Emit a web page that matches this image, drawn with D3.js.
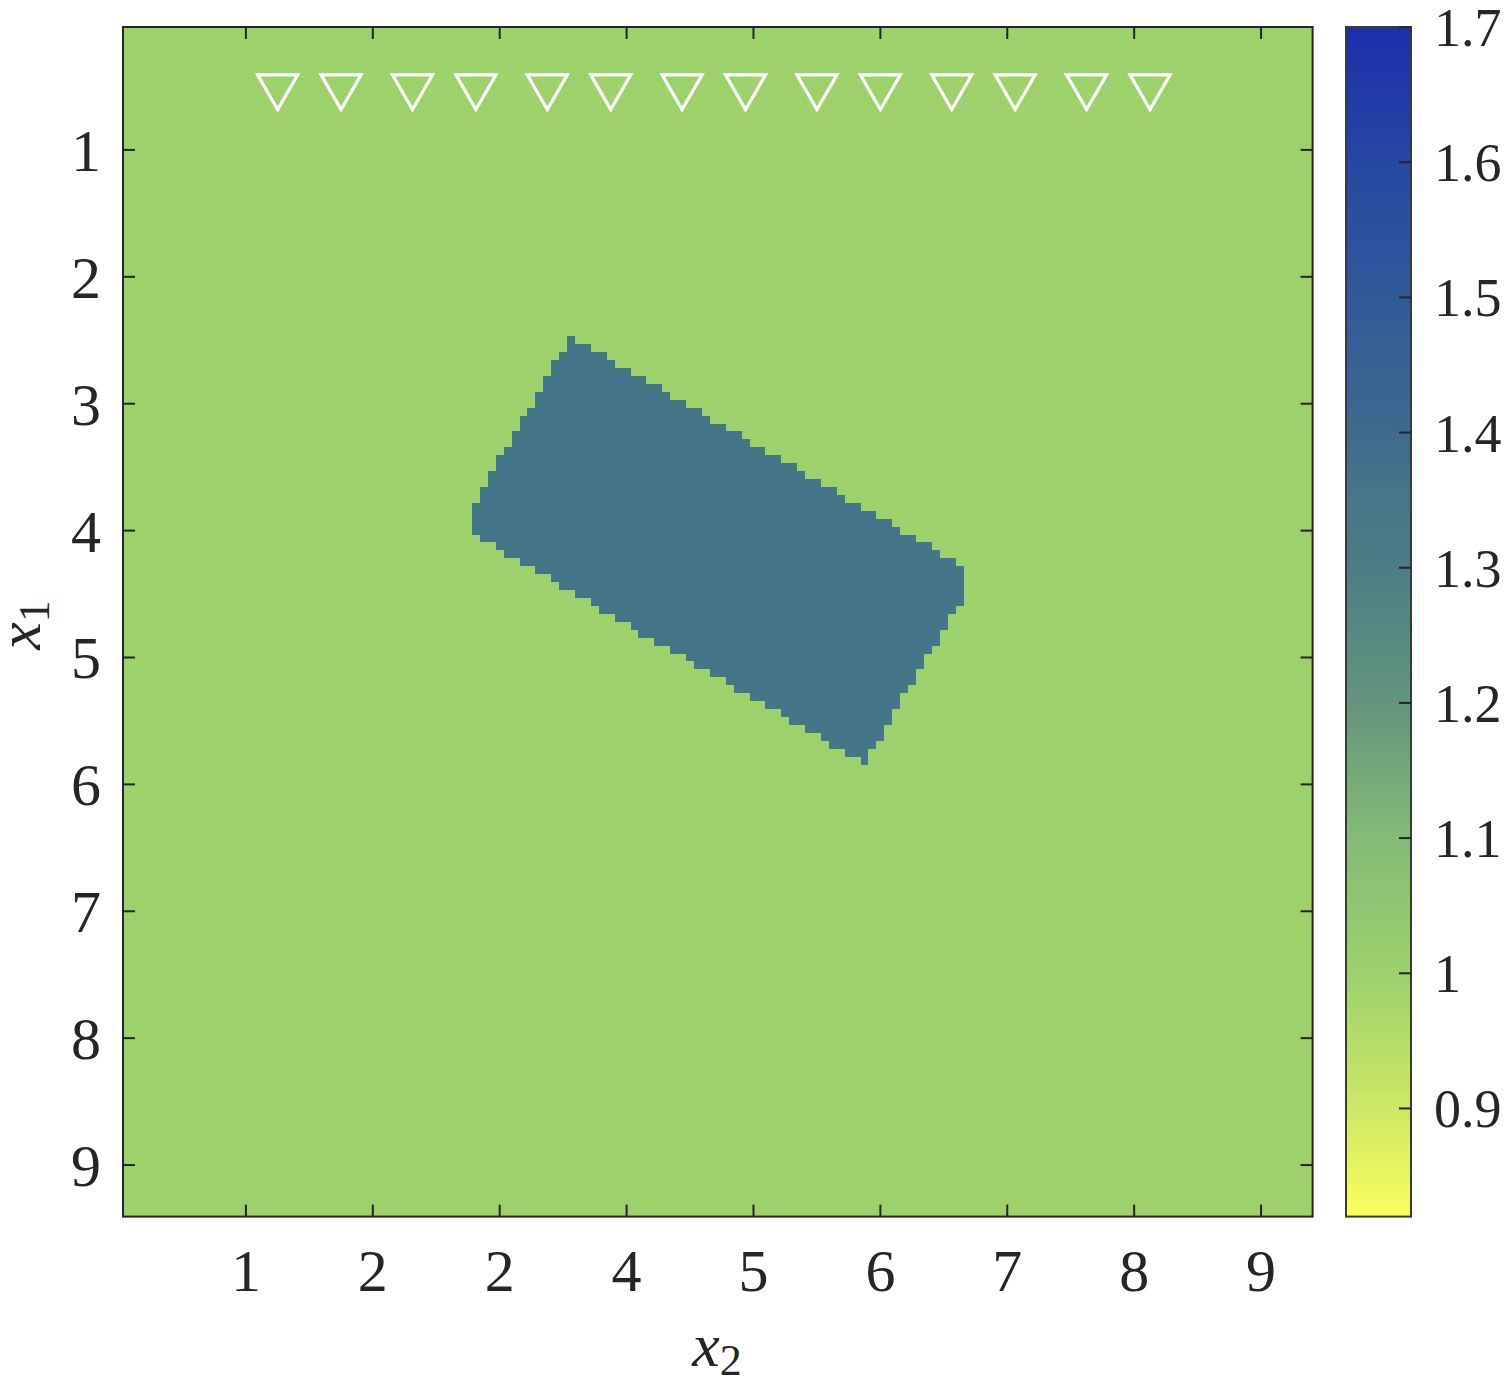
<!DOCTYPE html>
<html>
<head>
<meta charset="utf-8">
<script src="https://cdn.jsdelivr.net/npm/d3@7"></script>
<style>
  body { margin: 0; background: #fff; }
  svg text { font-family: 'Liberation Serif', 'DejaVu Serif', serif; fill: #262626; }
</style>
</head>
<body>
<svg id="chart" width="1506" height="1387"></svg>
<script>
// ---- data ----
var gridStep = 1 / 16;          // cell size of the image, both axes
var gridCount = 150;            // cells per axis (centres at k/16)
var backgroundValue = 1.0;
var regionValue = 1.36;
// outline of the tilted block, [x2, x1]
var regionCorners = [[3.5625, 2.47], [6.65, 4.28], [6.65, 4.52], [5.875, 5.84], [2.79, 4.03], [2.79, 3.79]];

var markerX2 = [1.25, 1.75, 2.3125, 2.8125, 3.375, 3.875, 4.4375, 4.9375, 5.5, 6.0, 6.5625, 7.0625, 7.625, 8.125];
var markerX1 = 0.545;

var xTickValues = [1, 2, 3, 4, 5, 6, 7, 8, 9];
var xTickLabels = ["1", "2", "2", "4", "5", "6", "7", "8", "9"];
var yTickValues = [1, 2, 3, 4, 5, 6, 7, 8, 9];
var yTickLabels = ["1", "2", "3", "4", "5", "6", "7", "8", "9"];

var cbDomain = [0.82, 1.7];
var cbTickValues = [0.9, 1.0, 1.1, 1.2, 1.3, 1.4, 1.5, 1.6, 1.7];
var cbTickLabels = ["0.9", "1", "1.1", "1.2", "1.3", "1.4", "1.5", "1.6", "1.7"];

var cmapValues = [0.82, 0.9, 1.0, 1.1, 1.2, 1.3, 1.36, 1.4, 1.5, 1.6, 1.7];
var cmapColors = ["#fbfe5c", "#cde866", "#9dd16c", "#84bb76", "#63957e", "#4c7d85", "#457588", "#3e6a8d", "#305a98", "#2647a2", "#1c2eae"];

// ---- layout ----
var svg = d3.select("#chart");
var plot = {left: 123, top: 27, size: 1189.6};
var cb = {left: 1346, top: 27, width: 65, height: 1189.6};
var axisColor = "#262626";

var domainLo = gridStep / 2, domainHi = gridStep * (gridCount + 0.5);

var x = d3.scaleLinear().domain([domainLo, domainHi]).range([plot.left, plot.left + plot.size]);
var y = d3.scaleLinear().domain([domainLo, domainHi]).range([plot.top, plot.top + plot.size]);

var color = d3.scaleLinear().domain(cmapValues).range(cmapColors).interpolate(d3.interpolateRgb).clamp(true);

// build the cells
var cells = [];
for (var i = 0; i < gridCount; i++) {
  for (var j = 0; j < gridCount; j++) {
    var cx = (i + 1) * gridStep, cy = (j + 1) * gridStep;
    var inside = d3.polygonContains(regionCorners, [cx, cy]);
    cells.push({x2: cx, x1: cy, v: inside ? regionValue : backgroundValue});
  }
}

var cw = x(gridStep) - x(0);
var ch = y(gridStep) - y(0);

svg.append("g")
  .attr("shape-rendering", "crispEdges")
  .selectAll("rect")
  .data(cells)
  .enter().append("rect")
  .attr("x", function(d) { return x(d.x2 - gridStep / 2); })
  .attr("y", function(d) { return y(d.x1 - gridStep / 2); })
  .attr("width", cw + 0.6)
  .attr("height", ch + 0.6)
  .attr("fill", function(d) { return color(d.v); });

// markers (downward triangles)
var triW = 40, triH = 34.6;
var tri = d3.path();
tri.moveTo(-triW / 2, -triH / 2);
tri.lineTo(triW / 2, -triH / 2);
tri.lineTo(0, triH / 2);
tri.closePath();

svg.append("g")
  .selectAll("path")
  .data(markerX2)
  .enter().append("path")
  .attr("d", tri.toString())
  .attr("transform", function(d) { return "translate(" + x(d) + "," + y(markerX1) + ")"; })
  .attr("fill", "none")
  .attr("stroke", "#fff")
  .attr("stroke-width", 3.2)
  .attr("stroke-linejoin", "miter");

// ticks on all four sides, pointing inward
var tickLen = 12;
var ticks = svg.append("g").attr("stroke", axisColor).attr("stroke-width", 2);
xTickValues.forEach(function(v) {
  ticks.append("line").attr("x1", x(v)).attr("x2", x(v)).attr("y1", plot.top + plot.size).attr("y2", plot.top + plot.size - tickLen);
  ticks.append("line").attr("x1", x(v)).attr("x2", x(v)).attr("y1", plot.top).attr("y2", plot.top + tickLen);
});
yTickValues.forEach(function(v) {
  ticks.append("line").attr("y1", y(v)).attr("y2", y(v)).attr("x1", plot.left).attr("x2", plot.left + tickLen);
  ticks.append("line").attr("y1", y(v)).attr("y2", y(v)).attr("x1", plot.left + plot.size).attr("x2", plot.left + plot.size - tickLen);
});

svg.append("rect")
  .attr("x", plot.left).attr("y", plot.top)
  .attr("width", plot.size).attr("height", plot.size)
  .attr("fill", "none").attr("stroke", axisColor).attr("stroke-width", 2);

// tick labels
svg.append("g").selectAll("text")
  .data(xTickValues)
  .enter().append("text")
  .attr("x", function(d) { return x(d); })
  .attr("y", 1291)
  .attr("text-anchor", "middle")
  .attr("font-size", 60)
  .text(function(d, i) { return xTickLabels[i]; });

svg.append("g").selectAll("text")
  .data(yTickValues)
  .enter().append("text")
  .attr("x", 101)
  .attr("y", function(d) { return y(d) + 21; })
  .attr("text-anchor", "end")
  .attr("font-size", 60)
  .text(function(d, i) { return yTickLabels[i]; });

// axis labels
var xl = svg.append("text")
  .attr("x", 717).attr("y", 1366)
  .attr("text-anchor", "middle")
  .attr("font-size", 62);
xl.append("tspan").attr("font-style", "italic").text("x");
xl.append("tspan").attr("font-size", 44).attr("dy", 9).text("2");

var yl = svg.append("text")
  .attr("transform", "translate(40,625) rotate(-90)")
  .attr("text-anchor", "middle")
  .attr("font-size", 62);
yl.append("tspan").attr("font-style", "italic").text("x");
yl.append("tspan").attr("font-size", 44).attr("dy", 9).text("1");

// colorbar
var cbY = d3.scaleLinear().domain(cbDomain).range([cb.top + cb.height, cb.top]);
var grad = svg.append("defs").append("linearGradient")
  .attr("id", "cbgrad")
  .attr("x1", 0).attr("y1", 1).attr("x2", 0).attr("y2", 0);
grad.selectAll("stop")
  .data(cmapValues)
  .enter().append("stop")
  .attr("offset", function(d) { return (d - cbDomain[0]) / (cbDomain[1] - cbDomain[0]); })
  .attr("stop-color", function(d) { return color(d); });

svg.append("rect")
  .attr("x", cb.left).attr("y", cb.top)
  .attr("width", cb.width).attr("height", cb.height)
  .attr("fill", "url(#cbgrad)")
  .attr("stroke", "#3a3a3a").attr("stroke-width", 2);

var cbt = svg.append("g");
cbTickValues.forEach(function(v, i) {
  cbt.append("line")
    .attr("x1", cb.left + cb.width).attr("x2", cb.left + cb.width - 12)
    .attr("y1", cbY(v)).attr("y2", cbY(v))
    .attr("stroke", axisColor).attr("stroke-width", 2);
  cbt.append("text")
    .attr("x", 1434)
    .attr("y", cbY(v) + 19)
    .attr("font-size", 54)
    .text(cbTickLabels[i]);
});
</script>
</body>
</html>
